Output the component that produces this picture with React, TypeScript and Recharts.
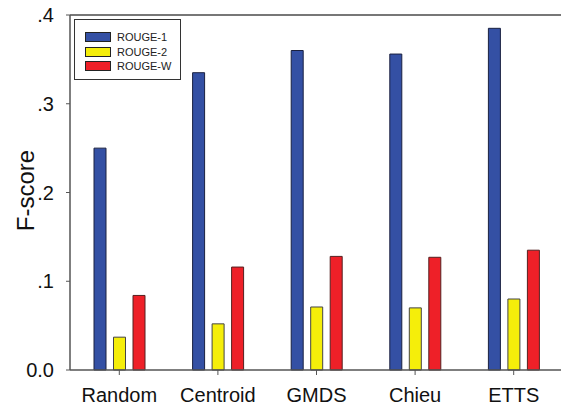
import React from "react";
import { BarChart, Bar, XAxis, YAxis, ReferenceLine } from "recharts";

const categories = ["Random", "Centroid", "GMDS", "Chieu", "ETTS"];
const rouge1 = [0.25, 0.335, 0.36, 0.356, 0.385];
const rouge2 = [0.037, 0.052, 0.071, 0.07, 0.08];
const rougeW = [0.084, 0.116, 0.128, 0.127, 0.135];
const yTicks = [0, 0.1, 0.2, 0.3, 0.4];

const seriesNames = ["ROUGE-1", "ROUGE-2", "ROUGE-W"];
const colors = ["#3450A4", "#F5EE0A", "#EE2028"];

const data = categories.map((c, i) => ({
  name: c,
  r1: rouge1[i],
  r2: rouge2[i],
  rw: rougeW[i],
}));

const FONT = "Liberation Sans, Arial, sans-serif";

const fmtY = (v: number) => (v === 0 ? "0.0" : "." + Math.round(v * 10));

const YTick = (props: any) => {
  const { x, y, payload } = props;
  return (
    <text x={x - 2} y={y} dy={7} textAnchor="end" fontSize={20} fill="#111" fontFamily={FONT}>
      {fmtY(payload.value)}
    </text>
  );
};

const XTick = (props: any) => {
  const { x, y, payload } = props;
  return (
    <text x={x} y={y} dy={25} textAnchor="middle" fontSize={20} fill="#111" fontFamily={FONT}>
      {payload.value}
    </text>
  );
};

const LegendBox = () => (
  <div
    style={{
      position: "absolute",
      left: 74,
      top: 19,
      width: 107,
      height: 61,
      border: "1px solid #333",
      boxSizing: "border-box",
      paddingTop: 10,
      paddingLeft: 10,
      background: "#fff",
    }}
  >
    {seriesNames.map((n, i) => (
      <div key={i} style={{ display: "flex", alignItems: "center", height: 14.5 }}>
        <div
          style={{
            width: 26,
            height: 10,
            background: colors[i],
            border: "1px solid #222",
            boxSizing: "border-box",
          }}
        />
        <span
          style={{
            marginLeft: 6,
            fontSize: 11,
            fontFamily: FONT,
            color: "#222",
            lineHeight: "12px",
          }}
        >
          {n}
        </span>
      </div>
    ))}
  </div>
);

export default function App() {
  return (
    <div style={{ position: "absolute", left: 0, top: 0, width: 561, height: 408, background: "#fff", overflow: "hidden" }}>
      <BarChart
        width={563}
        height={408}
        data={data}
        margin={{ top: 15, right: 0, left: 0, bottom: 0 }}
        barGap={7.5}
        barSize={12}
      >
        <XAxis
          dataKey="name"
          height={38}
          tick={<XTick />}
          tickSize={5}
          axisLine={{ stroke: "#555", strokeWidth: 1.5 }}
          tickLine={{ stroke: "#555" }}
        />
        <YAxis
          width={70}
          domain={[0, 0.4]}
          ticks={yTicks}
          tick={<YTick />}
          tickSize={4}
          tickMargin={10}
          axisLine={{ stroke: "#555", strokeWidth: 1.5 }}
          tickLine={{ stroke: "#555" }}
          label={{
            value: "F-score",
            angle: -90,
            position: "insideLeft",
            offset: 0,
            dx: 25,
            dy: -2,
            style: { fontSize: 24, fontFamily: FONT, fill: "#111", textAnchor: "middle" },
          }}
        />
        <ReferenceLine y={0.4} stroke="#777" strokeWidth={2} />
        <Bar dataKey="r1" name={seriesNames[0]} fill={colors[0]} stroke="#1a2040" strokeWidth={1} isAnimationActive={false} />
        <Bar dataKey="r2" name={seriesNames[1]} fill={colors[1]} stroke="#444" strokeWidth={1} isAnimationActive={false} />
        <Bar dataKey="rw" name={seriesNames[2]} fill={colors[2]} stroke="#552020" strokeWidth={1} isAnimationActive={false} />
      </BarChart>
      <LegendBox />
    </div>
  );
}
